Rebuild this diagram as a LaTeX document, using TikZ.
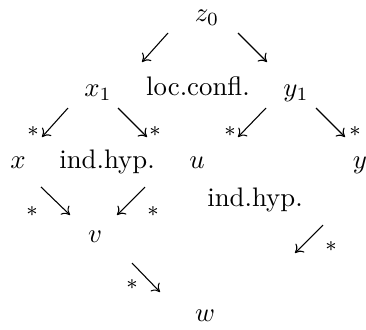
\documentclass[tikz,border=0pt]{standalone}
\usetikzlibrary{arrows.meta}
\begin{document}
\begin{tikzpicture}[x=0.3731pt,y=-0.3731pt,
  lbl/.style={anchor=base,inner sep=0pt},
  st/.style={inner sep=0pt,font=\footnotesize},
  arr/.style={-{Computer Modern Rightarrow[length=2.8pt,width=4.6pt]},line width=0.4pt}]
\useasboundingbox (0,0) rectangle (366,329);
% text nodes
\node[lbl] (z0) at (207,21) {$z_0$};
\node[lbl] (x1) at (98,96) {$x_1$};
\node[lbl] (lc) at (198,95) {loc.confl.};
\node[lbl] (y1) at (296,96) {$y_1$};
\node[lbl] (x) at (18,168) {$x$};
\node[lbl] (ih1) at (107,168) {ind.hyp.};
\node[lbl] (u) at (197,168) {$u$};
\node[lbl] (y) at (360,168) {$y$};
\node[lbl] (ih2) at (255,206) {ind.hyp.};
\node[lbl] (v) at (95,242) {$v$};
\node[lbl] (w) at (205,321) {$w$};
% arrow endpoints
\coordinate (a1s) at (168,33);  \coordinate (a1e) at (142,62);
\coordinate (a2s) at (238,33);  \coordinate (a2e) at (267,62);
\coordinate (a3s) at (68,108);  \coordinate (a3e) at (42,137);
\coordinate (a4s) at (118,108); \coordinate (a4e) at (147,137);
\coordinate (a5s) at (266,108); \coordinate (a5e) at (238,137);
\coordinate (a6s) at (316,108); \coordinate (a6e) at (345,137);
\coordinate (a7s) at (41,187);  \coordinate (a7e) at (70,215);
\coordinate (a8s) at (145,187); \coordinate (a8e) at (117,215);
\coordinate (a9s) at (323,225); \coordinate (a9e) at (295,253);
\coordinate (a10s) at (132,263); \coordinate (a10e) at (160,292);
\draw[arr] (a1s) -- (a1e);
\draw[arr] (a2s) -- (a2e);
\draw[arr] (a3s) -- (a3e);
\draw[arr] (a4s) -- (a4e);
\draw[arr] (a5s) -- (a5e);
\draw[arr] (a6s) -- (a6e);
\draw[arr] (a7s) -- (a7e);
\draw[arr] (a8s) -- (a8e);
\draw[arr] (a9s) -- (a9e);
\draw[arr] (a10s) -- (a10e);
% stars
\node[st] (s3) at (33,132) {$*$};
\node[st] (s4) at (155,132) {$*$};
\node[st] (s5) at (230,132) {$*$};
\node[st] (s6) at (355,132) {$*$};
\node[st] (s7) at (32,212) {$*$};
\node[st] (s8) at (153,212) {$*$};
\node[st] (s9) at (331,247) {$*$};
\node[st] (s10) at (132,285) {$*$};
\end{tikzpicture}
\end{document}
